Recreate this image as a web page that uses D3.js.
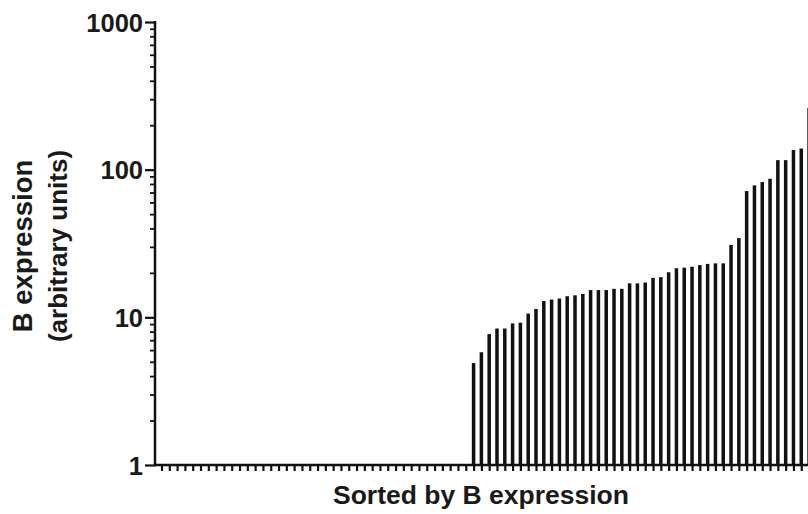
<!DOCTYPE html>
<html>
<head>
<meta charset="utf-8">
<script src="https://cdn.jsdelivr.net/npm/d3@7"></script>
<style>
  html, body { margin: 0; padding: 0; background: #fff; }
  svg { display: block; }
  text { font-family: "Liberation Sans", Arial, sans-serif; font-weight: bold; fill: #1a1a1a; }
</style>
</head>
<body>
<svg id="chart" width="808" height="514"></svg>
<script>
// ---- data ----
const emptyCount = 40; // samples with no detectable B expression (shown at baseline 1)
const expressedValues = [4.9, 5.8, 7.7, 8.4, 8.4, 9.1, 9.2, 10.6, 11.4, 12.9, 13.2, 13.4, 13.9, 14.1, 14.4,
  15.3, 15.3, 15.3, 15.6, 15.6, 17.0, 17.0, 17.2, 18.5, 18.7, 20.2, 21.5, 21.7, 22.0, 22.6, 23.0, 23.2, 23.2,
  30.9, 34.4, 71.6, 78.3, 82.4, 86.8, 116, 116, 136, 139, 261];
const values = Array(emptyCount).fill(1).concat(expressedValues);
const categories = values.map((d, i) => "S" + (i + 1));
const yTickValues = [1, 10, 100, 1000];
const yTickLabels = ["1", "10", "100", "1000"];
const yTitle = ["B expression", "(arbitrary units)"];
const xTitle = "Sorted by B expression";

// ---- layout ----
const svg = d3.select("#chart");
const axisX = 155, axisY = 465, topY = 22;
const firstCenter = 161.5, step = 7.802;

const x = d3.scalePoint().domain(categories)
  .range([firstCenter, firstCenter + (categories.length - 1) * step]);
const y = d3.scaleLog().domain([1, 1000]).range([axisY, topY]);
const barW = 3.5;

// bars
svg.append("g").selectAll("rect").data(values.map((v, i) => ({ c: categories[i], v })))
  .join("rect")
  .attr("x", d => x(d.c) - barW / 2)
  .attr("y", d => y(d.v))
  .attr("width", barW)
  .attr("height", d => y(1) - y(d.v))
  .attr("fill", "#111");

// x axis (ticks at each category, no labels)
const xAxis = d3.axisBottom(x).tickSize(6).tickFormat("");
const gx = svg.append("g").attr("transform", `translate(0,${axisY})`).call(xAxis);
gx.select(".domain").remove();
gx.selectAll(".tick line").attr("stroke", "#111").attr("stroke-width", 2.2);
svg.append("line").attr("x1", axisX).attr("x2", 808).attr("y1", axisY).attr("y2", axisY)
  .attr("stroke", "#111").attr("stroke-width", 2.5);

// y axis minor ticks
const minor = [];
for (let dec = 1; dec < 1000; dec *= 10) for (let k = 2; k <= 9; k++) minor.push(dec * k);
const yMinor = d3.axisLeft(y).tickValues(minor).tickSize(5).tickFormat("");
const gym = svg.append("g").attr("transform", `translate(${axisX},0)`).call(yMinor);
gym.select(".domain").remove();
gym.selectAll(".tick line").attr("stroke", "#111").attr("stroke-width", 1.8);

// y axis major ticks + labels
const yAxis = d3.axisLeft(y).tickValues(yTickValues).tickSize(10).tickPadding(2)
  .tickFormat((d, i) => yTickLabels[i]);
const gy = svg.append("g").attr("transform", `translate(${axisX},0)`).call(yAxis);
gy.select(".domain").remove();
gy.selectAll(".tick line").attr("stroke", "#111").attr("stroke-width", 2.2);
gy.selectAll(".tick text").attr("font-size", 25.5).attr("font-family", "Liberation Sans, Arial, sans-serif")
  .attr("font-weight", "bold").attr("fill", "#1a1a1a").attr("dy", "0.36em");
svg.append("line").attr("x1", axisX).attr("x2", axisX).attr("y1", topY - 1).attr("y2", axisY + 1.2)
  .attr("stroke", "#111").attr("stroke-width", 2.5);

// titles
svg.append("text").attr("x", 481).attr("y", 504).attr("text-anchor", "middle")
  .attr("font-size", 26.5).text(xTitle);
const yt = svg.append("g").attr("transform", "translate(0,246) rotate(-90)");
yt.append("text").attr("x", 0).attr("y", 32).attr("text-anchor", "middle").attr("font-size", 27.5).text(yTitle[0]);
yt.append("text").attr("x", 0).attr("y", 67).attr("text-anchor", "middle").attr("font-size", 26).text(yTitle[1]);
</script>
</body>
</html>
